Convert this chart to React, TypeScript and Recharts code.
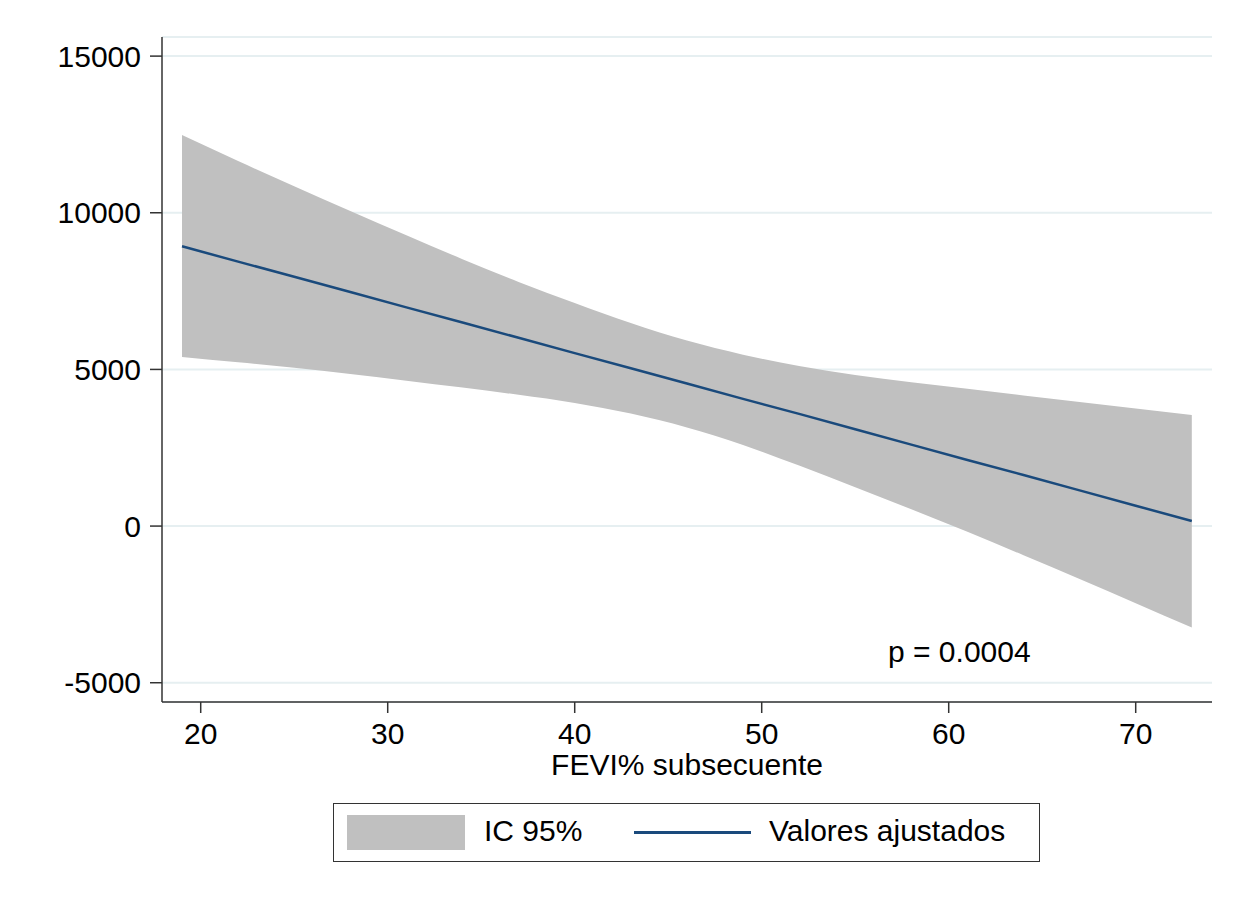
import { ComposedChart, Area, Line, XAxis, YAxis, CartesianGrid } from 'recharts';

const fevi = [19, 22, 25, 28, 31, 34, 37, 40, 43, 46, 49, 52, 55, 58, 61, 64, 67, 70, 73];
const fitted = [8930, 8440, 7960, 7470, 6980, 6500, 6010, 5520, 5040, 4550, 4060, 3580, 3090, 2600, 2110, 1630, 1140, 650, 160];
const ciUpper = [12480, 11650, 10850, 10060, 9280, 8520, 7790, 7120, 6480, 5920, 5470, 5110, 4820, 4590, 4380, 4170, 3960, 3750, 3545];
const ciLower = [5400, 5230, 5050, 4850, 4640, 4420, 4190, 3930, 3590, 3150, 2590, 1930, 1240, 540, -180, -930, -1690, -2460, -3240];

const xTicks = [20, 30, 40, 50, 60, 70];
const yTicks = [-5000, 0, 5000, 10000, 15000];

const data = fevi.map((x, i) => ({ x, fit: fitted[i], band: [ciLower[i], ciUpper[i]] }));

const font = '"Liberation Sans", Arial, Helvetica, sans-serif';
const axisColor = '#333';
const bandColor = '#c0c0c0';
const lineColor = '#1a4a7c';

export default function App() {
  return (
    <div style={{ position: 'absolute', left: 0, top: 0, width: 1240, height: 899, background: '#fff', fontFamily: font }}>
      <ComposedChart width={1240} height={899} data={data} margin={{ top: 37, right: 28, left: 0, bottom: 137 }}>
        <CartesianGrid horizontal vertical={false} stroke="#e6eff1" strokeWidth={2} />
        <XAxis
          dataKey="x"
          type="number"
          domain={[17.93, 74.08]}
          ticks={xTicks}
          height={60}
          tick={{ fill: '#000', fontSize: 30, fontFamily: font }}
          tickSize={11}
          tickMargin={10}
          stroke={axisColor}
          strokeWidth={1.5}
          tickLine={{ stroke: axisColor, strokeWidth: 1.5 }}
        />
        <YAxis
          type="number"
          domain={[-5615, 15610]}
          ticks={yTicks}
          width={162}
          tick={{ fill: '#000', fontSize: 30, fontFamily: font }}
          tickSize={12}
          tickMargin={9}
          stroke={axisColor}
          strokeWidth={1.5}
          tickLine={{ stroke: axisColor, strokeWidth: 1.5 }}
          allowDataOverflow
        />
        <Area type="monotone" dataKey="band" fill={bandColor} fillOpacity={1} stroke="none" isAnimationActive={false} />
        <Line type="linear" dataKey="fit" stroke={lineColor} strokeWidth={2.5} dot={false} isAnimationActive={false} />
      </ComposedChart>

      <div style={{ position: 'absolute', left: 0, width: 1374, top: 748, textAlign: 'center', fontSize: 30, color: '#000', lineHeight: '34px' }}>
        FEVI% subsecuente
      </div>

      <div style={{ position: 'absolute', left: 888, top: 635, fontSize: 30, color: '#000', lineHeight: '34px' }}>p = 0.0004</div>

      <div
        style={{
          position: 'absolute',
          left: 333,
          top: 803,
          width: 707,
          height: 59,
          boxSizing: 'border-box',
          border: '1.5px solid #333',
          fontSize: 30,
          color: '#000',
        }}
      >
        <div style={{ position: 'absolute', left: 13, top: 11, width: 118, height: 35, background: bandColor }} />
        <div style={{ position: 'absolute', left: 150, top: 10, lineHeight: '34px' }}>IC 95%</div>
        <div style={{ position: 'absolute', left: 300, top: 27, width: 117, height: 2.5, background: lineColor }} />
        <div style={{ position: 'absolute', left: 435, top: 10, lineHeight: '34px' }}>Valores ajustados</div>
      </div>
    </div>
  );
}
